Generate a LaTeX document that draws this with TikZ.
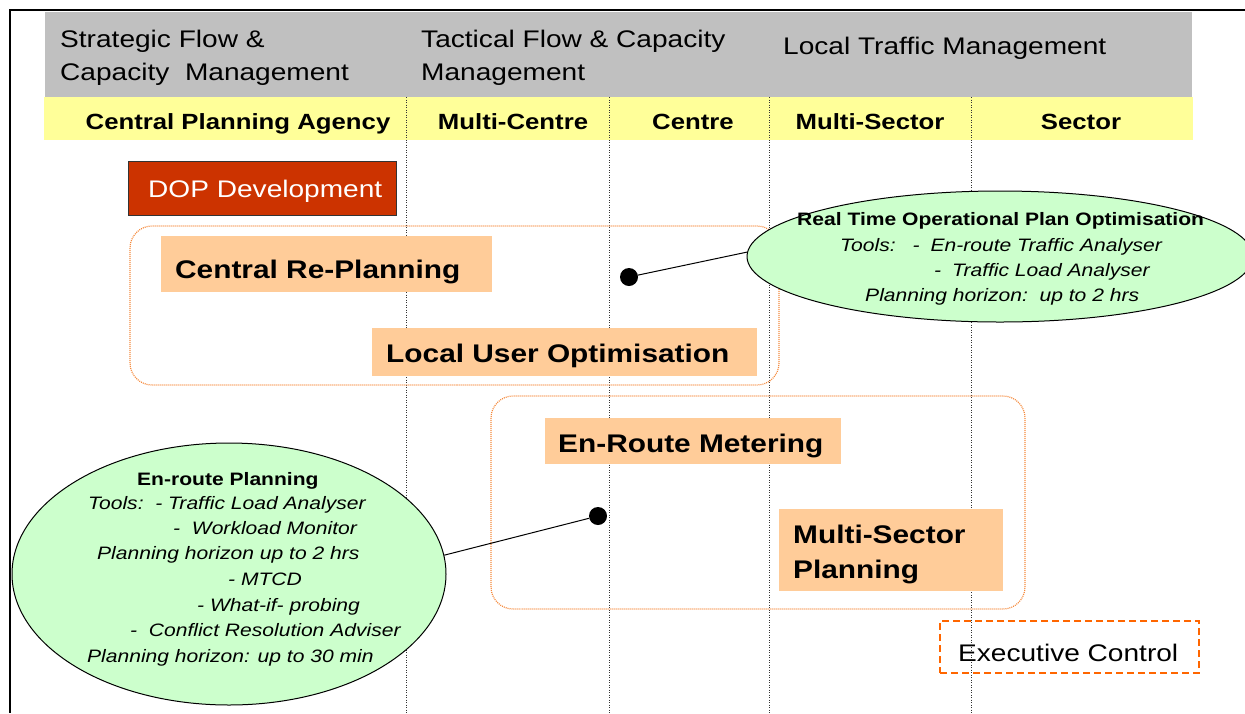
\documentclass[tikz,border=0pt]{standalone}
\usepackage{fontspec}
\setmainfont{Liberation Sans}[FakeStretch=1.17]
\usetikzlibrary{shapes.geometric}
\definecolor{bandgray}{HTML}{C0C0C0}
\definecolor{bandyellow}{HTML}{FFFF99}
\definecolor{peach}{HTML}{FFCC99}
\definecolor{notegreen}{HTML}{CCFFCC}
\definecolor{dopred}{HTML}{CC3300}
\definecolor{grouporange}{HTML}{F58A3C}
\definecolor{execorange}{HTML}{FF6600}
\newcommand{\fs}[1]{\fontsize{#1}{#1}\selectfont}
\begin{document}
\begin{tikzpicture}[x=1pt,y=-1pt,
  hdr/.style={font=\fs{24}, anchor=base west, inner sep=0},
  lvl/.style={font=\fs{22}\bfseries, anchor=base, inner sep=0},
  vline/.style={black!80, line width=0.9pt, dash pattern=on 1pt off 1.5pt},
  group/.style={grouporange, line width=1.2pt, dash pattern=on 1pt off 1pt, rounded corners=22pt},
  taskbox/.style={rectangle, fill=peach, draw=none, anchor=north west, inner sep=0},
  tasklbl/.style={font=\fs{25.5}\bfseries, anchor=base west, inner sep=0},
  note/.style={ellipse, draw=black, line width=1pt, fill=notegreen, inner sep=0},
  notetitle/.style={font=\fs{18}\bfseries, anchor=base west, inner sep=0},
  noteline/.style={font=\fs{18}\itshape, anchor=base west, inner sep=0},
  dot/.style={circle, fill=black, inner sep=0, minimum size=18pt},
  link/.style={black, line width=1pt}]
\useasboundingbox (0,0) rectangle (1245,713);

% frame
\draw[line width=2.2pt] (1245,10) -- (10,10) -- (10,713);

% management bands
\fill[bandgray] (45,12) rectangle (1192,97);
\fill[bandyellow] (44,97) rectangle (1193,140);

% column separators
\foreach \cx in {406,609,769,971}
  \draw[vline] (\cx,97) -- (\cx,713);

% band texts
\node[hdr] (stratA) at (60,47) {Strategic Flow \&};
\node[hdr] (stratB) at (60,80) {Capacity\ \ Management};
\node[hdr] (tactA) at (421,47) {Tactical Flow \& Capacity};
\node[hdr] (tactB) at (421,80) {Management};
\node[hdr] (local) at (783,54) {Local Traffic Management};

\node[lvl] (cpa) at (238,129) {Central Planning Agency};
\node[lvl] (mcen) at (513,129) {Multi-Centre};
\node[lvl] (cen) at (693,129) {Centre};
\node[lvl] (msec) at (870,129) {Multi-Sector};
\node[lvl] (sec) at (1081,129) {Sector};

% DOP development
\node[rectangle, fill=dopred, draw=black!80, line width=1.2pt, minimum width=268pt, minimum height=54pt,
      inner sep=0, anchor=north west] (dopbox) at (128,161) {};
\node[hdr, text=white] (dop) at (148,197) {DOP Development};

% process groups
\draw[group] (130,226) rectangle (779,385);
\draw[group] (491,396) rectangle (1025,609);

% tasks
\node[taskbox, minimum width=331pt, minimum height=56pt] (crpbox) at (161,236) {};
\node[tasklbl] (crp) at (175,278) {Central Re-Planning};
\node[taskbox, minimum width=385pt, minimum height=48pt] (luobox) at (372,328) {};
\node[tasklbl] (luo) at (386,362) {Local User Optimisation};
\node[taskbox, minimum width=296pt, minimum height=46pt] (ermbox) at (545,418) {};
\node[tasklbl] (erm) at (558,452) {En-Route Metering};
\node[taskbox, minimum width=224pt, minimum height=82pt] (mspbox) at (779,509) {};
\node[tasklbl] (mspA) at (793,543) {Multi-Sector};
\node[tasklbl] (mspB) at (793,578) {Planning};

% executive control
\node[rectangle, draw=execorange, line width=2pt, dash pattern=on 7pt off 4pt,
      minimum width=259pt, minimum height=52pt, inner sep=0, anchor=north west] (execbox) at (939,620) {};
\node[hdr] (exec) at (958,661) {Executive Control};

% real time optimisation note
\node[note, minimum width=506pt, minimum height=131pt] (ell1) at (1000,256.5) {};
\node[notetitle] (e1t) at (797,225) {Real Time Operational Plan Optimisation};
\node[noteline] (e1a) at (840,251) {Tools:\hspace{17pt}-\hspace{11pt}En-route Traffic Analyser};
\node[noteline] (e1b) at (934,276) {-\hspace{11pt}Traffic Load Analyser};
\node[noteline] (e1c) at (865,301) {Planning horizon:\ \ up to 2 hrs};

% en-route planning note
\node[note, minimum width=434pt, minimum height=262pt] (ell2) at (229,574) {};
\node[notetitle] (e2t) at (137,485) {En-route Planning};
\node[noteline] (e2a) at (88,509) {Tools:\ \ - Traffic Load Analyser};
\node[noteline] (e2b) at (173,534) {-\ \ Workload Monitor};
\node[noteline] (e2c) at (97,559) {Planning horizon up to 2 hrs};
\node[noteline] (e2d) at (228,585) {- MTCD};
\node[noteline] (e2e) at (197,611) {- What-if- probing};
\node[noteline] (e2f) at (130,636) {-\ \ Conflict Resolution Adviser};
\node[noteline] (e2g) at (87,662) {Planning horizon: up to 30 min};

% connectors
\node[dot] (dot1) at (629,277) {};
\node[dot] (dot2) at (598,516) {};
\draw[link] (dot1) -- (ell1.179);
\draw[link] (dot2) -- (ell2.5);
\end{tikzpicture}
\end{document}
